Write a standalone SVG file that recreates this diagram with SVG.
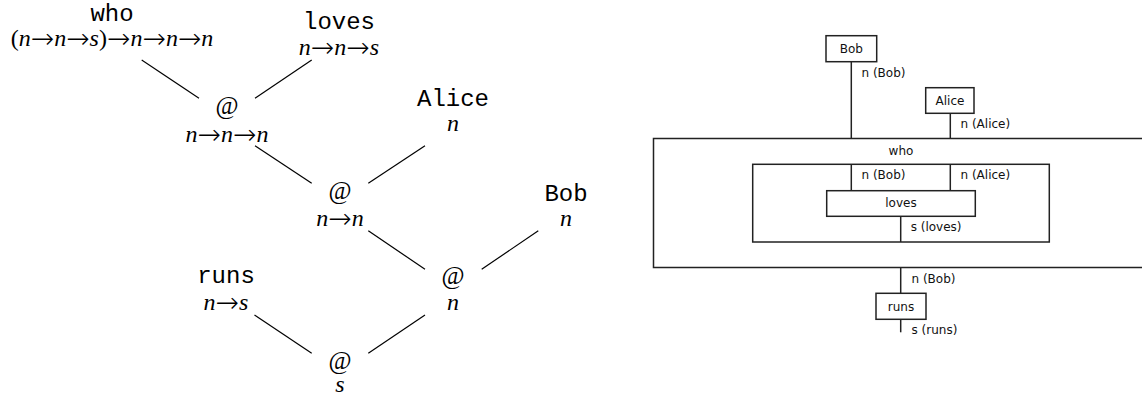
<svg xmlns="http://www.w3.org/2000/svg" width="1142" height="398" viewBox="0 0 1142 398">
<style>
.w{font-family:"Liberation Mono","DejaVu Sans Mono",monospace;font-size:24px;fill:#000;text-anchor:middle}
.t{font-family:"Liberation Serif","DejaVu Serif",serif;font-style:italic;font-size:24px;fill:#000;text-anchor:middle}
.a{font-family:"DejaVu Sans ExtraLight","DejaVu Sans",sans-serif;font-weight:200;font-style:normal;font-size:28px}
.p{font-style:normal}
.at{font-family:"Liberation Serif","DejaVu Serif",serif;font-size:25px;fill:#000;text-anchor:middle}
.e{stroke:#000;stroke-width:1.2;fill:none}
.b{fill:#fff;stroke:#222;stroke-width:1.5}
.s{font-family:"DejaVu Sans",sans-serif;font-size:12px;fill:#111}
.m{text-anchor:middle}
.w2{stroke:#222;stroke-width:1.5;fill:none}
</style>
<rect width="1142" height="398" fill="#fff"/>
<g id="tree-connectors">
<line class="e" x1="141.7" y1="60" x2="199" y2="98.3"/>
<line class="e" x1="255" y1="98.3" x2="311.7" y2="60"/>
<line class="e" x1="255" y1="145.7" x2="311.7" y2="183.3"/>
<line class="e" x1="368.3" y1="183.3" x2="425" y2="145.7"/>
<line class="e" x1="368.3" y1="230.7" x2="425" y2="269.3"/>
<line class="e" x1="481.7" y1="269.3" x2="538.3" y2="230.7"/>
<line class="e" x1="254.5" y1="315" x2="311.7" y2="353.3"/>
<line class="e" x1="368.3" y1="353.3" x2="425" y2="315"/>
</g>
<g id="who">
<text class="w" x="112" y="21">who</text>
<text class="t" x="112" y="46"><tspan class="p">(</tspan>n<tspan class="a" dy="1.5">→</tspan><tspan dy="-1.5">n</tspan><tspan class="a" dy="1.5">→</tspan><tspan dy="-1.5">s</tspan><tspan class="p">)</tspan><tspan class="a" dy="1.5">→</tspan><tspan dy="-1.5">n</tspan><tspan class="a" dy="1.5">→</tspan><tspan dy="-1.5">n</tspan><tspan class="a" dy="1.5">→</tspan><tspan dy="-1.5">n</tspan></text>
</g>
<g id="loves">
<text class="w" x="339" y="29">loves</text>
<text class="t" x="339" y="55">n<tspan class="a" dy="1.5">→</tspan><tspan dy="-1.5">n</tspan><tspan class="a" dy="1.5">→</tspan><tspan dy="-1.5">s</tspan></text>
</g>
<g id="app1">
<text class="at" x="227" y="114">@</text>
<text class="t" x="227" y="142">n<tspan class="a" dy="1.5">→</tspan><tspan dy="-1.5">n</tspan><tspan class="a" dy="1.5">→</tspan><tspan dy="-1.5">n</tspan></text>
</g>
<g id="alice">
<text class="w" x="453" y="106">Alice</text>
<text class="t" x="453" y="131">n</text>
</g>
<g id="app2">
<text class="at" x="340" y="199">@</text>
<text class="t" x="340" y="226">n<tspan class="a" dy="1.5">→</tspan><tspan dy="-1.5">n</tspan></text>
</g>
<g id="bob">
<text class="w" x="566" y="201">Bob</text>
<text class="t" x="566" y="226">n</text>
</g>
<g id="app3">
<text class="at" x="453" y="284">@</text>
<text class="t" x="453" y="310">n</text>
</g>
<g id="runs">
<text class="w" x="226" y="283">runs</text>
<text class="t" x="226" y="310">n<tspan class="a" dy="1.5">→</tspan><tspan dy="-1.5">s</tspan></text>
</g>
<g id="app4">
<text class="at" x="340" y="369">@</text>
<text class="t" x="340" y="392">s</text>
</g>

<g id="wires">
<line class="w2" x1="851.3" y1="61.7" x2="851.3" y2="138.5"/>
<line class="w2" x1="950.3" y1="113.3" x2="950.3" y2="138.5"/>
<line class="w2" x1="851.3" y1="164.3" x2="851.3" y2="190.7"/>
<line class="w2" x1="950.3" y1="164.3" x2="950.3" y2="190.7"/>
<line class="w2" x1="900.7" y1="216.3" x2="900.7" y2="242"/>
<line class="w2" x1="900.7" y1="267.5" x2="900.7" y2="293.3"/>
<line class="w2" x1="900.7" y1="319.3" x2="900.7" y2="332.3"/>
<text class="s" x="861.5" y="77">n (Bob)</text>
<text class="s" x="960.5" y="127.5">n (Alice)</text>
<text class="s" x="861.5" y="179">n (Bob)</text>
<text class="s" x="960.5" y="179">n (Alice)</text>
<text class="s" x="910.7" y="231">s (loves)</text>
<text class="s" x="911.5" y="283">n (Bob)</text>
<text class="s" x="911.5" y="334">s (runs)</text>
</g>
<g id="box-bob">
<rect class="b" x="826" y="35.7" width="50.7" height="26"/>
<text class="s m" x="851.3" y="53">Bob</text>
</g>
<g id="box-alice">
<rect class="b" x="925.7" y="87.7" width="48.3" height="25.6"/>
<text class="s m" x="950" y="104.5">Alice</text>
</g>
<g id="box-who">
<path class="w2" d="M1143 138.5H653.5V267.5H1143"/>
<text class="s m" x="901" y="155">who</text>
</g>
<g id="box-who-body">
<rect class="w2" x="752.7" y="164.3" width="296.6" height="77.7"/>
</g>
<g id="box-loves">
<rect class="b" x="826.7" y="190.7" width="148.6" height="25.6"/>
<text class="s m" x="901" y="206.5">loves</text>
</g>
<g id="box-runs">
<rect class="b" x="876" y="293.3" width="50" height="26"/>
<text class="s m" x="901" y="310.5">runs</text>
</g>
</svg>
